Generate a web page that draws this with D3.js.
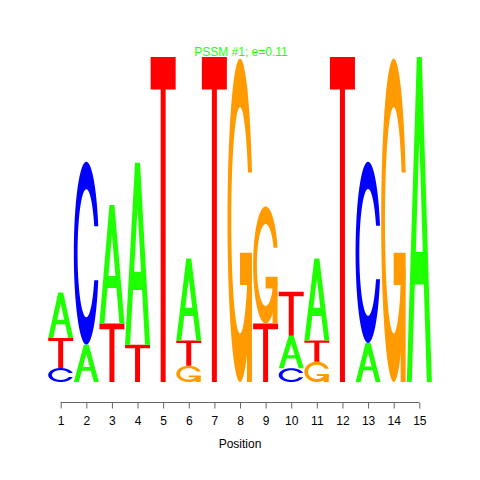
<!DOCTYPE html>
<html>
<head>
<meta charset="utf-8">
<script src="https://cdn.jsdelivr.net/npm/d3@7"></script>
<style>
  html, body { margin: 0; padding: 0; background: #fff; }
  svg { display: block; }
</style>
</head>
<body>
<svg id="chart" width="480" height="480"></svg>
<script>
// Data (information content, bits) per position
const positions = [1,2,3,4,5,6,7,8,9,10,11,12,13,14,15];
const bitsA = [0.28, 0.23, 0.73, 1.12, 0,    0.505, 0,    0,    0,    0.20, 0.505, 0,    0.24, 0,    2.0];
const bitsC = [0.086,1.125,0,    0,    0,    0,     0,    0,    0,    0.085,0,     0,    1.115,0,    0];
const bitsG = [0,    0,    0,    0,    0,    0.10,  0,    1.99, 0.72, 0,    0.125, 0,    0,    1.99, 0];
const bitsT = [0.185,0,    0.36, 0.23, 2.0,  0.155, 2.0,  0,    0.36, 0.27, 0.13,  2.0,  0,    0,    0];
const title = "PSSM #1; e=0.11";
const xLabel = "Position";
const colors = { A: "#1EFF00", C: "#0000FF", G: "#FF9A00", T: "#FF0000" };

const svg = d3.select("#chart");
const x = d3.scaleLinear().domain([1, 15]).range([60.7, 419.3]);
const y = d3.scaleLinear().domain([0, 2]).range([382, 57]);
const letterW = 25;

// Letter polygons in unit square (seqLogo style), y up
function arcPts(r, a0, a1, n) {
  const pts = [];
  for (let i = 0; i < n; i++) {
    const a = a0 + (a1 - a0) * i / (n - 1);
    pts.push([0.5 + r * Math.sin(a), 0.5 + r * Math.cos(a)]);
  }
  return pts;
}
function cShape() {
  const l1 = arcPts(0.5, 0.3 + Math.PI / 2, Math.PI, 100);
  const l2 = arcPts(0.5, Math.PI, 1.5 * Math.PI, 100);
  const l = l1.concat(l2);
  const maxY = d3.max(l1, p => p[1]);
  const outer = l.concat(l.slice().reverse().map(p => [p[0], 1 - p[1]]));
  let i1 = arcPts(0.35, 0.3 + Math.PI / 2, Math.PI, 100).filter(p => p[1] <= maxY);
  i1[0] = [i1[0][0], maxY];
  const i2 = arcPts(0.35, Math.PI, 1.5 * Math.PI, 100);
  const ii = i1.concat(i2);
  const inner = ii.concat(ii.slice().reverse().map(p => [p[0], 1 - p[1]]));
  return { outer: outer.concat(inner.slice().reverse()), r1: d3.max(l1, p => p[0]) };
}
const C0 = cShape();
const shapes = {
  A: [
    { pts: [[0,0],[0.4,1],[0.6,1],[1,0],[0.8,0],[0.68,0.3],[0.32,0.3],[0.2,0],[0,0]], hole: false },
    { pts: [[0.36,0.4],[0.5,0.75],[0.64,0.4],[0.36,0.4]], hole: true }
  ],
  T: [
    { pts: [[0,1],[1,1],[1,0.9],[0.6,0.9],[0.6,0],[0.4,0],[0.4,0.9],[0,0.9]], hole: false }
  ],
  C: [ { pts: C0.outer, hole: false } ],
  G: [
    { pts: C0.outer, hole: false },
    { pts: [[C0.r1,0.4],[0.5,0.4],[0.5,0.3],[C0.r1-0.2,0.3],[C0.r1-0.2,0],[C0.r1,0],[C0.r1,0.4]], hole: false }
  ]
};

const gLetters = svg.append("g");
positions.forEach((p, i) => {
  const stack = [
    { L: "A", h: bitsA[i] }, { L: "C", h: bitsC[i] },
    { L: "G", h: bitsG[i] }, { L: "T", h: bitsT[i] }
  ].filter(d => d.h > 0).sort((a, b) => a.h - b.h);
  let base = 0;
  stack.forEach(d => {
    const x0 = x(p) - letterW / 2;
    const yb = y(base), yt = y(base + d.h);
    const line = d3.line()
      .x(q => x0 + q[0] * letterW)
      .y(q => yb + (yt - yb) * q[1]);
    shapes[d.L].forEach(s => {
      gLetters.append("path")
        .attr("d", line(s.pts) + "Z")
        .attr("fill", s.hole ? "#fff" : colors[d.L])
        .attr("stroke", "none");
    });
    base += d.h;
  });
});

// Axis
const axis = d3.axisBottom(x).tickValues(positions).tickSize(6).tickPadding(8).tickFormat(d3.format("d"));
const gx = svg.append("g").attr("transform", "translate(0,402.5)").call(axis);
gx.select(".domain").attr("stroke", "#666").attr("d", `M${x(1)},0H${x(15)}`);
gx.selectAll(".tick line").attr("stroke", "#666");
gx.selectAll(".tick text").attr("font-family", "Liberation Sans, Arial, sans-serif").attr("font-size", 12).attr("fill", "#000");

svg.append("text").attr("x", 240).attr("y", 448).attr("text-anchor", "middle")
  .attr("font-family", "Liberation Sans, Arial, sans-serif").attr("font-size", 12).text(xLabel);

svg.append("text").attr("x", 241).attr("y", 56).attr("text-anchor", "middle")
  .attr("font-family", "Liberation Sans, Arial, sans-serif").attr("font-size", 12)
  .attr("fill", "#1EFF00").text(title);
</script>
</body>
</html>
